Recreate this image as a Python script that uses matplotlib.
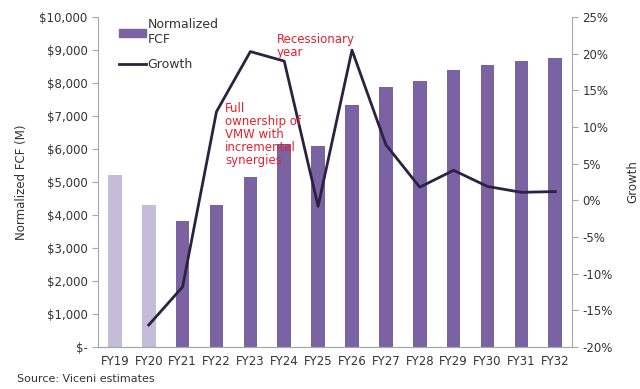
import numpy as np
import matplotlib.pyplot as plt
from matplotlib.ticker import FuncFormatter
from matplotlib.patches import Patch
from matplotlib.lines import Line2D

# data
years = ['FY19', 'FY20', 'FY21', 'FY22', 'FY23', 'FY24', 'FY25',
         'FY26', 'FY27', 'FY28', 'FY29', 'FY30', 'FY31', 'FY32']
fcf = [5200, 4300, 3820, 4300, 5150, 6150, 6090,
       7350, 7880, 8060, 8390, 8550, 8670, 8760]
growth_years = years[1:]
growth = [-17.0, -11.8, 12.1, 20.3, 19.0, -0.8, 20.5,
          7.6, 1.8, 4.1, 1.9, 1.1, 1.2]
n_actual = 2  # FY19, FY20 drawn lighter

light = '#C4BCD9'
dark = '#7B62A3'
line_col = '#2A2340'
red = '#E8202E'
grey = '#A6A6A6'
txt = '#333333'

plt.rcParams['font.family'] = ['DejaVu Sans']
plt.rcParams['font.size'] = 8.5

fig = plt.figure(figsize=(6.4, 3.89), dpi=100)
ax = fig.add_axes([0.153, 0.108, 0.741, 0.848])
ax2 = ax.twinx()

x = np.arange(len(years))
colors = [light] * n_actual + [dark] * (len(years) - n_actual)
ax.bar(x, fcf, width=0.4, color=colors, zorder=2)
xg = np.arange(1, len(years))
ax2.plot(xg, growth, color=line_col, lw=2, zorder=3)

ax.set_xlim(-0.5, len(years) - 0.5)
ax.set_ylim(0, 10000)
ax.set_yticks(range(0, 10001, 1000))
ax.yaxis.set_major_formatter(FuncFormatter(lambda v, p: '$-' if v == 0 else '${:,.0f}'.format(v)))
ax2.set_ylim(-20, 25)
ax2.set_yticks(range(-20, 26, 5))
ax2.yaxis.set_major_formatter(FuncFormatter(lambda v, p: '{:.0f}%'.format(v)))

ax.set_xticks(x)
ax.set_xticklabels(years)

for a in (ax, ax2):
    a.spines['top'].set_visible(False)
    for s in ('left', 'right', 'bottom'):
        a.spines[s].set_color(grey)
    a.tick_params(colors=grey, labelcolor=txt, length=4, width=0.8)
ax.tick_params(axis='x', length=0, pad=6)
ax2.spines['left'].set_visible(False)
ax.spines['right'].set_visible(False)

ax.set_ylabel('Normalized FCF (M)', color=txt, labelpad=8)
ax2.set_ylabel('Growth', color=txt, labelpad=10)

handles = [Patch(color=dark), Line2D([], [], color=line_col, lw=2)]
ax.legend(handles, ['Normalized\nFCF', 'Growth'], loc='upper left',
          bbox_to_anchor=(0.02, 1.03), frameon=False, fontsize=9,
          handlelength=2.2, handleheight=0.5, handletextpad=0.1,
          labelspacing=0.95, labelcolor=txt)

ax2.text(4.79, 22.8, 'Recessionary\nyear', color=red, fontsize=8.5,
         ha='left', va='top', linespacing=1.0)
ax2.text(3.25, 13.4, 'Full\nownership of\nVMW with\nincremental\nsynergies',
         color=red, fontsize=8.5, ha='left', va='top', linespacing=1.0)

fig.text(0.026, 0.018, 'Source: Viceni estimates', color=txt, fontsize=8)

fig.savefig('out.png', dpi=100)
